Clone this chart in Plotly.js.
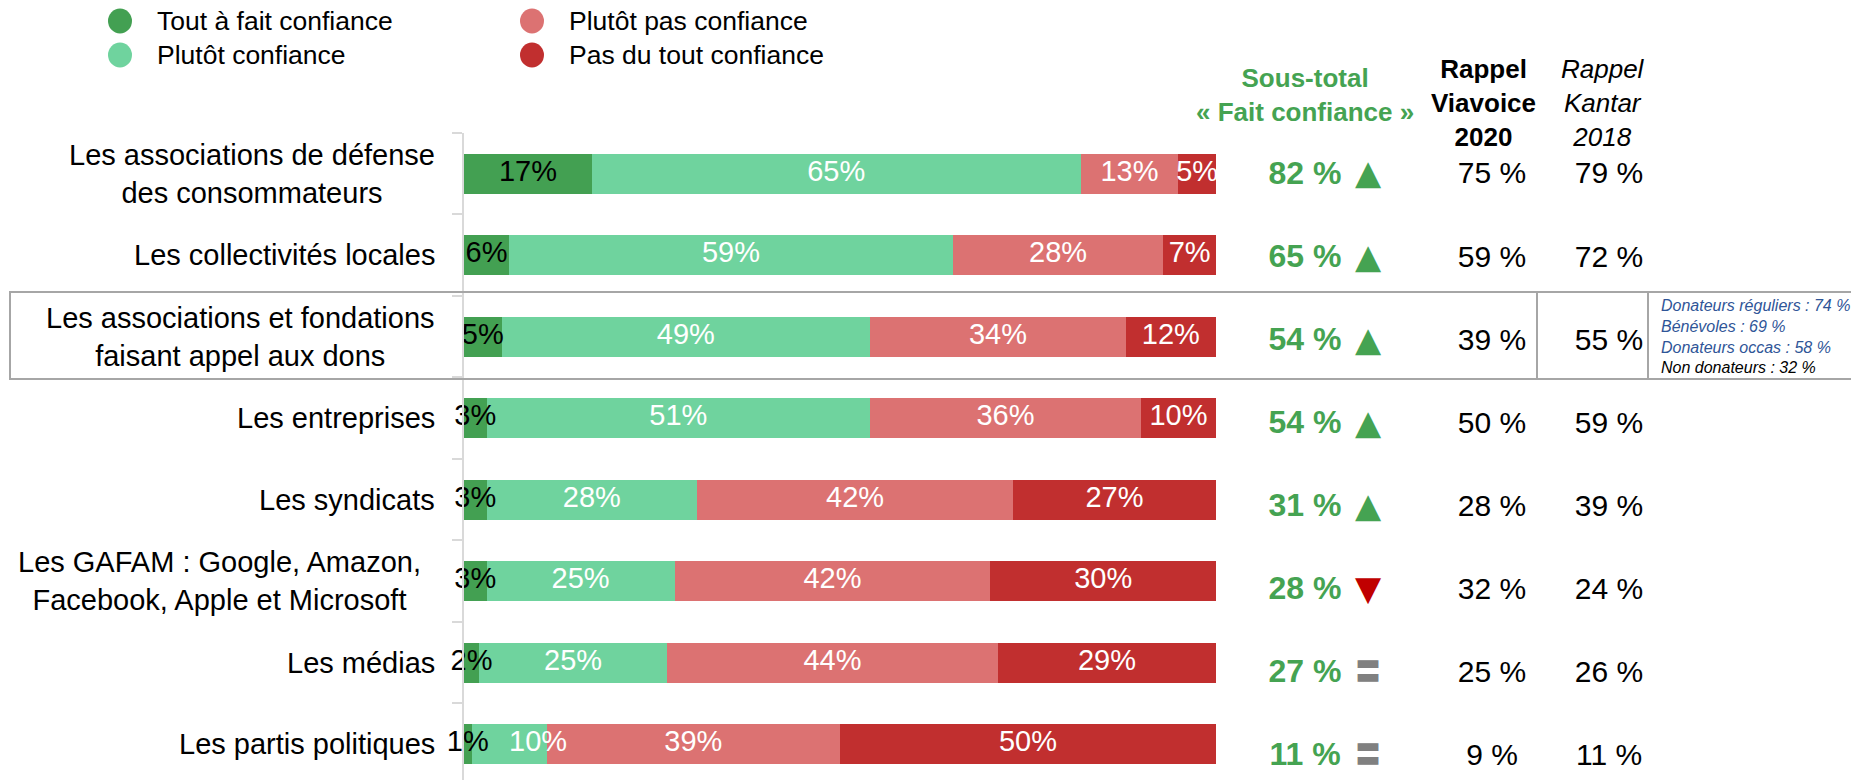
<!DOCTYPE html>
<html><head><meta charset="utf-8">
<script src="https://cdn.plot.ly/plotly-3.0.1.min.js"></script>
<style>html,body{margin:0;padding:0;background:#fff}#chart{width:1851px;height:780px}</style>
</head><body><div id="chart"></div>
<script>
// ---------- DATA ----------
const categories = [
  "Les associations de défense<br>des consommateurs",
  "Les collectivités locales",
  "Les associations et fondations<br>faisant appel aux dons",
  "Les entreprises",
  "Les syndicats",
  "Les GAFAM : Google, Amazon,<br>Facebook, Apple et Microsoft",
  "Les médias",
  "Les partis politiques"
];
const seriesNames = ["Tout à fait confiance", "Plutôt confiance", "Plutôt pas confiance", "Pas du tout confiance"];
const toutAFait  = [17, 6, 5, 3, 3, 3, 2, 1];
const plutot     = [65, 59, 49, 51, 28, 25, 25, 10];
const plutotPas  = [13, 28, 34, 36, 42, 42, 44, 39];
const pasDuTout  = [5, 7, 12, 10, 27, 30, 29, 50];
const sousTotal  = [82, 65, 54, 54, 31, 28, 27, 11];
const evolution  = ["up", "up", "up", "up", "up", "down", "equal", "equal"];
const rappelViavoice2020 = [75, 59, 39, 50, 28, 32, 25, 9];
const rappelKantar2018   = [79, 72, 55, 59, 39, 24, 26, 11];
const donsLabels = ["Donateurs réguliers", "Bénévoles", "Donateurs occas", "Non donateurs"];
const donsValues = [74, 69, 58, 32];
const headerSousTotal = ["Sous-total", "« Fait confiance »"];
const headerViavoice = ["Rappel", "Viavoice", "2020"];
const headerKantar = ["Rappel", "Kantar", "2018"];

// ---------- LAYOUT CONSTANTS ----------
const W = 1851, H = 780, TOP = 133;
const px = v => v / W;
const py = v => (H - v) / (H - TOP);
const FONT = "Liberation Sans, Arial, sans-serif";
const COLORS = ["#43A052", "#6FD39E", "#DC7272", "#C12F2F"];
const TEXTCOL = ["#000000", "#FFFFFF", "#FFFFFF", "#FFFFFF"];
const GREEN = "#45A352";
const labelRight = [437, 437, 437, 437, 437, 423, 437, 437];
const colSous = 1305, colTrend = 1368, colVia = 1492, colKan = 1609;

const series = [toutAFait, plutot, plutotPas, pasDuTout];
const traces = series.map((vals, k) => ({
  type: "bar", orientation: "h", name: seriesNames[k],
  y: categories, x: vals,
  marker: {color: COLORS[k], line: {width: 0}},
  hoverinfo: "skip", showlegend: false
}));
// segment labels drawn above all bars (centre of each stacked segment)
series.forEach((vals, k) => {
  const starts = vals.map((v, i) => {
    let s = 0;
    for (let j = 0; j < k; j++) s += series[j][i];
    return s;
  });
  // a narrow segment right after a tiny one gets its label pushed right to avoid a clash
  const crowded = vals.map((v, i) => k > 0 && series[k - 1][i] < 2 && v < 12);
  traces.push({
    type: "scatter", mode: "text",
    x: vals.map((v, i) => starts[i] + v / 2), y: categories,
    text: vals.map(v => v + "%"),
    textposition: crowded.map(c => c ? "middle right" : "middle center"),
    textfont: {family: FONT, size: 29, color: TEXTCOL[k]},
    cliponaxis: false, hoverinfo: "skip", showlegend: false
  });
});

const trendGlyph = {up: "▲", down: "▼", equal: "〓"};
const trendColor = {up: GREEN, down: "#C00000", equal: "#808080"};
const trendFont = {up: "DejaVu Sans", down: "DejaVu Sans", equal: "Noto Sans CJK JP"};

const tableTrace = (vals, x, font, fmt) => ({
  type: "scatter", mode: "text", xaxis: "x2", yaxis: "y2",
  x: vals.map(() => x), y: categories,
  text: vals.map(fmt), textposition: "middle center",
  textfont: font, hoverinfo: "skip", showlegend: false, cliponaxis: false
});
traces.push(tableTrace(sousTotal, colSous, {family: FONT, size: 32, color: GREEN}, v => "<b>" + v + " %</b>"));
traces.push(tableTrace(rappelViavoice2020, colVia, {family: FONT, size: 30, color: "#000"}, v => v + " %"));
traces.push(tableTrace(rappelKantar2018, colKan, {family: FONT, size: 30, color: "#000"}, v => v + " %"));
traces.push({
  type: "scatter", mode: "text", xaxis: "x2", yaxis: "y2",
  x: evolution.map(() => colTrend), y: categories,
  text: evolution.map(e => trendGlyph[e]),
  textposition: "middle center",
  textfont: {family: evolution.map(e => trendFont[e]), size: evolution.map(e => e === "equal" ? 26 : 34),
             color: evolution.map(e => trendColor[e])},
  hoverinfo: "skip", showlegend: false, cliponaxis: false
});

const annotations = [];
categories.forEach((c, i) => annotations.push({
  xref: "paper", yref: "y", x: px(labelRight[i]), y: i,
  xanchor: "right", yanchor: "middle", align: "center",
  text: c, showarrow: false, font: {family: FONT, size: 29, color: "#000"}
}));
annotations.push({xref: "paper", yref: "paper", x: px(1305), y: py(95), xanchor: "center", yanchor: "middle",
  text: headerSousTotal.map(t => "<b>" + t + "</b>").join("<br>"), showarrow: false,
  font: {family: FONT, size: 26, color: GREEN}});
annotations.push({xref: "paper", yref: "paper", x: px(1483), y: py(103), xanchor: "center", yanchor: "middle",
  text: headerViavoice.map(t => "<b>" + t + "</b>").join("<br>"), showarrow: false,
  font: {family: FONT, size: 26, color: "#000"}});
annotations.push({xref: "paper", yref: "paper", x: px(1603), y: py(103), xanchor: "center", yanchor: "middle",
  text: headerKantar.map(t => "<i>" + t + "</i>").join("<br>"), showarrow: false,
  font: {family: FONT, size: 26, color: "#000"}});
annotations.push({xref: "paper", yref: "paper", x: px(1659), y: py(336), xanchor: "left", yanchor: "middle", align: "left",
  text: donsLabels.map((l, i) => '<i><span style="color:' + (i < 3 ? "#2F5597" : "#000") + '">' + l + " : " + donsValues[i] + " %</span></i>").join("<br>"),
  showarrow: false, font: {family: FONT, size: 16, color: "#000"}});

// legend (manual, round symbols)
const legendPos = [[120, 21], [120, 55], [532, 21], [532, 55]];
const shapes = [];
seriesNames.forEach((n, k) => {
  const [cx, cy] = legendPos[k];
  shapes.push({type: "circle", xref: "paper", yref: "paper",
    x0: px(cx - 12), x1: px(cx + 12), y0: py(cy + 12.5), y1: py(cy - 12.5),
    fillcolor: COLORS[k], line: {width: 0}});
  annotations.push({xref: "paper", yref: "paper", x: px(cx + 35), y: py(cy), xanchor: "left", yanchor: "middle",
    text: n, showarrow: false, font: {family: FONT, size: 26.5, color: "#000"}});
});
// highlight box around row 3
shapes.push({type: "rect", xref: "paper", yref: "paper", x0: px(10), x1: 1.01, y0: py(379), y1: py(292),
  line: {color: "#A6A6A6", width: 2}, fillcolor: "rgba(0,0,0,0)"});
[1537, 1648].forEach(x => shapes.push({type: "line", xref: "paper", yref: "paper", x0: px(x), x1: px(x), y0: py(379), y1: py(292),
  line: {color: "#A6A6A6", width: 2}}));

const layout = {
  width: W, height: H,
  margin: {l: 0, r: 0, t: TOP, b: 0, pad: 0},
  paper_bgcolor: "#fff", plot_bgcolor: "rgba(0,0,0,0)",
  barmode: "stack", bargap: 0.51, showlegend: false,
  font: {family: FONT, color: "#000"},
  xaxis: {domain: [px(464), px(1216)], range: [0, 100], visible: false, fixedrange: true},
  yaxis: {type: "category", categoryorder: "array", categoryarray: categories,
    range: [7.44, -0.5], showticklabels: false, ticks: "outside", tickson: "boundaries",
    ticklen: 10, tickwidth: 2, tickcolor: "#D9D9D9", showline: true, linecolor: "#D9D9D9", linewidth: 2,
    showgrid: false, zeroline: false, fixedrange: true},
  xaxis2: {domain: [0, 1], range: [0, W], visible: false, anchor: "y2", fixedrange: true},
  yaxis2: {domain: [0, 1], type: "category", categoryorder: "array", categoryarray: categories,
    range: [7.277, -0.518], visible: false, anchor: "x2", fixedrange: true},
  annotations: annotations, shapes: shapes
};
Plotly.newPlot("chart", traces, layout, {displayModeBar: false, staticPlot: true});
</script></body></html>
